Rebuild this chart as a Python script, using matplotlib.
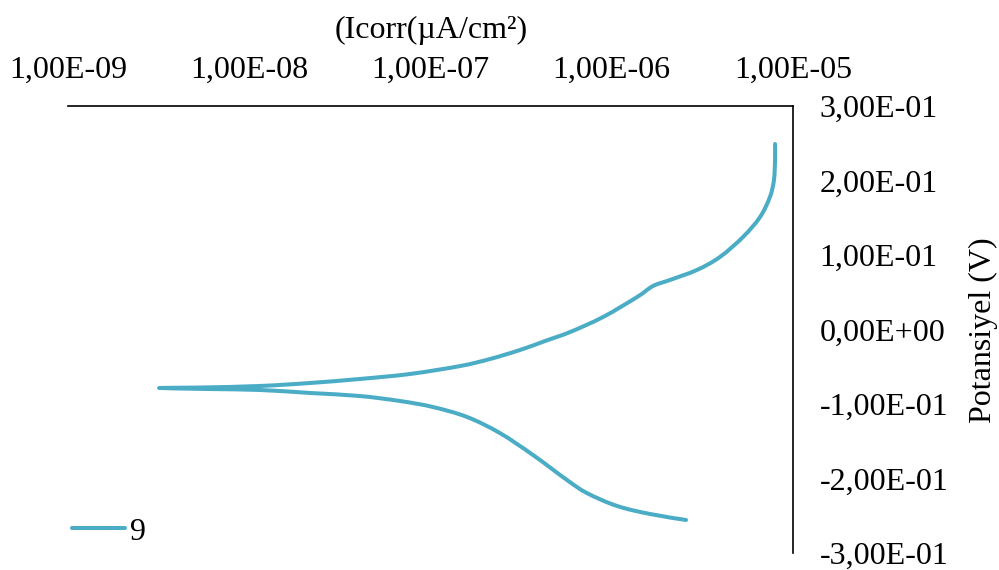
import matplotlib
matplotlib.use("Agg")
import matplotlib.pyplot as plt
import numpy as np
from matplotlib.path import Path
from matplotlib.patches import PathPatch

# Polarization curve, sample "9": current density (A/cm2) vs potential (V)
# cathodic end -> corrosion potential -> anodic end
current = [
    2.57e-6, 1.63e-6, 1.07e-6, 7.29e-7, 5.66e-7, 3.68e-7, 2.41e-7, 1.59e-7,
    1.03e-7, 6.79e-8, 4.08e-8, 2.16e-8, 1.15e-8, 6.06e-9, 3.18e-9,
    5.35e-9, 1.15e-8, 2.16e-8, 4.08e-8, 7.71e-8, 1.46e-7, 2.13e-7, 3.12e-7,
    4.29e-7, 5.89e-7, 8.96e-7, 1.38e-6, 1.69e-6, 2.09e-6, 2.95e-6, 3.95e-6,
    5.30e-6, 6.58e-6, 7.46e-6, 7.85e-6, 7.96e-6, 7.96e-6,
]
potential = [
    -0.2557, -0.2477, -0.2369, -0.2195, -0.2020, -0.1685, -0.1389, -0.1174,
    -0.1040, -0.0960, -0.0893, -0.0852, -0.0812, -0.0799, -0.0785,
    -0.0779, -0.0758, -0.0718, -0.0664, -0.0597, -0.0490, -0.0396, -0.0275,
    -0.0154, -0.0034, 0.0168, 0.0436, 0.0584, 0.0664, 0.0799, 0.0973,
    0.1242, 0.1510, 0.1779, 0.2007, 0.2275, 0.2490,
]
series_name = "9"

x_ticks = [1e-9, 1e-8, 1e-7, 1e-6, 1e-5]
x_tick_labels = ["1,00E-09", "1,00E-08", "1,00E-07", "1,00E-06", "1,00E-05"]
y_ticks = [0.3, 0.2, 0.1, 0.0, -0.1, -0.2, -0.3]
y_tick_labels = ["3,00E-01", "2,00E-01", "1,00E-01", "0,00E+00",
                 "-1,00E-01", "-2,00E-01", "-3,00E-01"]

LINE_COLOR = "#4BACC6"
LINE_WIDTH = 2.9

plt.rcParams["font.family"] = ["Liberation Serif", "DejaVu Serif"]
FS = 23


def smoothed_path(xs, ys):
    """Catmull-Rom style cubic Bezier path through the points (log-x space)."""
    pts = np.column_stack([np.log10(xs), ys])
    verts = [pts[0]]
    codes = [Path.MOVETO]
    n = len(pts)
    for i in range(n - 1):
        p0 = pts[i - 1] if i > 0 else pts[i]
        p1 = pts[i]
        p2 = pts[i + 1]
        p3 = pts[i + 2] if i + 2 < n else pts[i + 1]
        c1 = p1 + (p2 - p0) / 6.0
        c2 = p2 - (p3 - p1) / 6.0
        verts += [c1, c2, p2]
        codes += [Path.CURVE4] * 3
    verts = np.array(verts)
    verts[:, 0] = 10.0 ** verts[:, 0]
    return Path(verts, codes)


fig = plt.figure(figsize=(9.99, 5.70), dpi=100)
ax = fig.add_axes([68 / 999, 1 - 553 / 570, 725 / 999, 447 / 570])

ax.set_xscale("log")
ax.set_xlim(1e-9, 1e-5)
ax.set_ylim(-0.3, 0.3)
ax.minorticks_off()

curve = PathPatch(smoothed_path(current, potential), fill=False,
                  edgecolor=LINE_COLOR, linewidth=LINE_WIDTH,
                  capstyle="round", joinstyle="round")
ax.add_patch(curve)
legend_line, = ax.plot([], [], color=LINE_COLOR, linewidth=LINE_WIDTH,
                       solid_capstyle="round", label=series_name)

ax.xaxis.tick_top()
ax.yaxis.tick_right()
ax.set_xticks(x_ticks, x_tick_labels)
ax.set_yticks(y_ticks, y_tick_labels)
ax.tick_params(axis="both", length=0, labelsize=FS)
ax.tick_params(axis="x", pad=15.5)
ax.tick_params(axis="y", pad=19)

for side in ("bottom", "left"):
    ax.spines[side].set_visible(False)
for side in ("top", "right"):
    ax.spines[side].set_linewidth(1.2)
    ax.spines[side].set_color("black")

ax.xaxis.set_label_position("top")
ax.set_xlabel("(Icorr(µA/cm²)", fontsize=FS)
ax.xaxis.set_label_coords(0.5007, 1.152)
ax.yaxis.set_label_position("right")
ax.set_ylabel("Potansiyel (V)", fontsize=FS)
ax.yaxis.set_label_coords(1.243, 0.499)

ax.legend(handles=[legend_line], loc="center left",
          bbox_to_anchor=(0.0055, 0.047), frameon=False,
          fontsize=FS, handlelength=1.66, handletextpad=0.15, borderpad=0,
          borderaxespad=0)

fig.savefig("out.png", dpi=100)
